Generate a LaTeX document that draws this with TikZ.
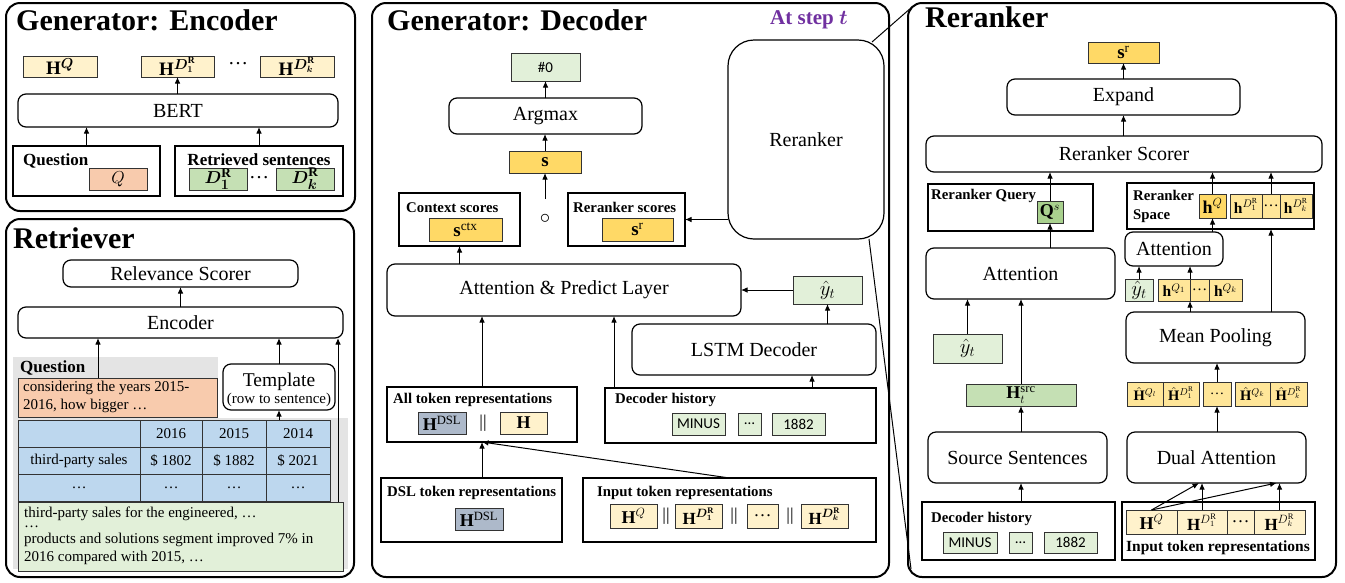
\documentclass[tikz,border=0pt]{standalone}
\usepackage{fontspec}
\usepackage{amsmath,bm}
\setmainfont{Liberation Serif}
\newfontfamily\calib{Carlito}
\usetikzlibrary{arrows.meta}

\definecolor{hyel}{HTML}{FFF2CC}
\definecolor{peach}{HTML}{F8CBAD}
\definecolor{lgreen}{HTML}{E2F0D9}
\definecolor{mgreen}{HTML}{C5E0B4}
\definecolor{dgreen}{HTML}{A9D18E}
\definecolor{gold}{HTML}{FFD966}
\definecolor{lgold}{HTML}{FFE699}
\definecolor{slate}{HTML}{ADB9CA}
\definecolor{tblue}{HTML}{BDD7EE}
\definecolor{bggray}{HTML}{E4E4E4}
\definecolor{stepcol}{HTML}{7030A0}

% font sizes (1pt = one unit of the drawing grid)
\newcommand\ttl{\fontsize{30}{34}\selectfont\bfseries}
\newcommand\bodyf{\fontsize{20}{24}\selectfont}
\newcommand\lblf{\fontsize{14.8}{17}\selectfont\bfseries}
\newcommand\biglbl{\fontsize{17}{20}\selectfont\bfseries}
\newcommand\txtf{\fontsize{15}{17.5}\selectfont}
\newcommand\codef{\fontsize{15}{18}\selectfont\calib}
\newcommand\mathf{\fontsize{18}{20}\selectfont}
\newcommand\smath{\fontsize{15.5}{17}\selectfont}
\newcommand\tmath{\fontsize{14.5}{16}\selectfont}

% box from its two corners: name, style, x1, y1, x2, y2, content;
% the content sits in its own tight node <name>t at the box centre
\newcommand\mkbox[7]{%
  \node[#2, minimum width={#5-#3}, minimum height={#6-#4}] (#1) at ({(#3+#5)/2},{(#4+#6)/2}) {};
  \node[#2, draw=none, fill=none, rounded corners=0pt, minimum width=0pt, minimum height=0pt] (#1t) at (#1.center) {#7};}

\newcommand\HD[1]{\mathbf{H}^{\boldsymbol{D}_{\boldsymbol{#1}}^{\mathbf{R}}}}

\tikzset{
  panel/.style={draw, line width=2pt, rounded corners=14pt, inner sep=0pt, outer sep=0pt},
  modbox/.style={draw, line width=1.2pt, rounded corners=8pt, fill=white, inner sep=0pt, outer sep=0pt, font=\bodyf},
  frame/.style={draw, line width=1.2pt, fill=white, inner sep=0pt, outer sep=0pt},
  cell/.style={draw=black!80, line width=1pt, inner sep=0pt, outer sep=0pt, font=\mathf},
  lbl/.style={inner sep=0pt, font=\lblf},
  sep/.style={inner sep=0pt, font=\mathf},
  ttlnode/.style={inner sep=0pt, font=\ttl, anchor=base west},
  arr/.style={-{Latex[length=6.5pt,width=5.5pt]}, line width=1pt},
  link/.style={line width=1pt},
}

\begin{document}
\begin{tikzpicture}[x=1pt,y=-1pt]
\useasboundingbox (0,0) rectangle (1345,582);
\fill[white] (0,0) rectangle (1345,582);

%================ Generator: Encoder ================
\mkbox{enc}{panel}{6}{3}{355}{211}{}
\node[ttlnode] (encT) at (16,30) {Generator: Encoder};
\mkbox{ehq}{cell,fill=hyel,font=\fontsize{19}{20}\selectfont}{23}{56}{97}{77}{$\mathbf{H}^{\boldsymbol{Q}}$}
\mkbox{ehd1}{cell,fill=hyel,font=\fontsize{19}{20}\selectfont}{141}{56}{214}{77}{$\HD{1}$}
\node[sep,font=\bodyf] (edots) at (238,64) {…};
\mkbox{ehdk}{cell,fill=hyel,font=\fontsize{19}{20}\selectfont}{260}{56}{334}{77}{$\HD{k}$}
\mkbox{bert}{modbox}{18}{94}{338}{127}{BERT}
\draw[arr] (bert.north -| ehd1) -- (ehd1.south);
\mkbox{qbox}{frame}{13}{146}{160}{196}{}
\node[lbl,font=\biglbl,anchor=base west] (qlab) at (23,165) {Question};
\mkbox{eq}{cell,fill=peach,font=\fontsize{19}{20}\selectfont}{89}{168}{147}{190}{$Q$}
\mkbox{rsbox}{frame}{175}{146}{343}{196}{}
\node[lbl,font=\biglbl,anchor=base] (rslab) at (259,165) {Retrieved sentences};
\mkbox{ed1}{cell,fill=mgreen,font=\fontsize{19}{20}\selectfont}{189}{168}{247}{190}{$\boldsymbol{D}_{\boldsymbol{1}}^{\mathbf{R}}$}
\node[sep,font=\bodyf] (eddots) at (259,178) {…};
\mkbox{edk}{cell,fill=mgreen,font=\fontsize{19}{20}\selectfont}{276}{168}{334}{190}{$\boldsymbol{D}_{\boldsymbol{k}}^{\mathbf{R}}$}
\draw[arr] (qbox.north) -- (qbox.north |- bert.south);
\draw[arr] (rsbox.north) -- (rsbox.north |- bert.south);

%================ Retriever ================
\mkbox{ret}{panel}{6}{219}{354}{577}{}
\fill[bggray] (13,357) rectangle (218,420);
\fill[bggray] (13,418) rectangle (348,569);
\node[ttlnode] (retT) at (13,248) {Retriever};
\mkbox{rscore}{modbox}{63}{260}{298}{287}{Relevance Scorer}
\mkbox{renc}{modbox}{18}{307}{343}{338}{Encoder}
\draw[arr] (renc.north) -- (rscore.south);
\node[lbl,font=\biglbl,anchor=base west] (rq) at (20,372) {Question};
\mkbox{qtext}{cell,fill=peach}{18}{378}{217}{417}{}
\node[inner sep=0pt,font=\txtf,anchor=base west] (qt1) at (23,391) {considering the years 2015-};
\node[inner sep=0pt,font=\txtf,anchor=base west] (qt2) at (23,409) {2016, how bigger …};
\draw[arr] ([xshift=-19.5pt]qtext.north) -- ([xshift=-19.5pt]qtext.north |- renc.south);
\mkbox{tmpl}{modbox}{223}{364}{335}{410}{}
\node[inner sep=0pt,font=\fontsize{19.5}{22}\selectfont,anchor=base] (tmplA) at (279,386) {Template};
\node[inner sep=0pt,font=\txtf,anchor=base] (tmplB) at (279,403) {(row to sentence)};
\draw[arr] (tmpl.north) -- (tmpl.north |- renc.south);

% table
\tikzset{tcell/.style={draw=black!80, line width=1pt, fill=tblue, inner sep=0pt, outer sep=0pt, font=\txtf}}
\mkbox{t11}{tcell}{18}{420}{140}{447}{}
\mkbox{t12}{tcell}{140}{420}{202}{447}{2016}
\mkbox{t13}{tcell}{202}{420}{266}{447}{2015}
\mkbox{t14}{tcell}{266}{420}{330}{447}{2014}
\mkbox{t21}{tcell}{18}{447}{140}{474}{third-party sales}
\mkbox{t22}{tcell}{140}{447}{202}{474}{\$ 1802}
\mkbox{t23}{tcell}{202}{447}{266}{474}{\$ 1882}
\mkbox{t24}{tcell}{266}{447}{330}{474}{\$ 2021}
\mkbox{t31}{tcell}{18}{474}{140}{501}{…}
\mkbox{t32}{tcell}{140}{474}{202}{501}{…}
\mkbox{t33}{tcell}{202}{474}{266}{501}{…}
\mkbox{t34}{tcell}{266}{474}{330}{501}{…}
\draw[arr] (t14.north -| tmpl.south) -- (tmpl.south);

\mkbox{sent}{cell,fill=lgreen}{18}{502}{343}{571}{}
\node[inner sep=0pt,font=\txtf,anchor=base west] (s1) at (24,517) {third-party sales for the engineered, …};
\node[inner sep=0pt,font=\txtf,anchor=base west] (s2) at (24,527) {…};
\node[inner sep=0pt,font=\txtf,anchor=base west] (s3) at (24,543) {products and solutions segment improved 7\% in};
\node[inner sep=0pt,font=\txtf,anchor=base west] (s4) at (24,561) {2016 compared with 2015, …};
\draw[arr] ([xshift=-5pt]sent.north east) -- ([xshift=-5pt]sent.north east |- renc.south);

%================ Generator: Decoder ================
\mkbox{dec}{panel}{372}{3}{889}{577}{}
\node[ttlnode] (decT) at (387,30) {Generator: Decoder};
\node[inner sep=0pt,anchor=base west,font=\fontsize{21}{24}\selectfont\bfseries,text=stepcol] (stepT) at (770,24) {At step $\boldsymbol{t}$};
\mkbox{rrk}{modbox,rounded corners=26pt}{728}{40}{884}{239}{Reranker}

\mkbox{out0}{cell,fill=lgreen,font=\codef}{511}{53}{580}{81}{\#0}
\mkbox{amax}{modbox}{449}{98}{642}{134}{Argmax}
\mkbox{sfin}{cell,fill=gold,font=\fontsize{19}{20}\selectfont}{509}{151}{581}{173}{$\mathbf{s}$}
\draw[arr] (amax.north) -- (out0.south);
\draw[arr] (sfin.north) -- (sfin.north |- amax.south);
\coordinate (mix) at (545,199);
\draw[arr] (mix) -- (mix |- sfin.south);
\node[sep,font=\bodyf] (odot) at (545,219) {$\circ$};

\mkbox{ctx}{frame}{399}{193}{520}{246}{}
\node[lbl,anchor=base west] (ctxl) at (406,212) {Context scores};
\mkbox{sctx}{cell,fill=gold,font=\fontsize{19}{20}\selectfont}{429}{218}{502}{241}{$\mathbf{s}^{\mathrm{ctx}}$}
\mkbox{rrs}{frame}{568}{193}{685}{246}{}
\node[lbl,anchor=base west] (rrsl) at (573,212) {Reranker scores};
\mkbox{sr}{cell,fill=gold,font=\fontsize{19}{20}\selectfont}{602}{218}{673}{241}{$\mathbf{s}^{\mathrm{r}}$}
\draw[arr] (rrk.west |- rrs.east) -- (rrs.east);

\mkbox{attp}{modbox}{387}{264}{741}{316}{Attention \& Predict Layer}
\draw[arr] (ctx.south |- attp.north) -- (ctx.south);
\mkbox{yh}{cell,fill=lgreen,font=\bodyf}{793}{276}{862}{304}{$\hat{y}_t$}
\draw[arr] (yh.west) -- (yh.west -| attp.east);
\mkbox{lstm}{modbox}{632}{324}{876}{375}{LSTM Decoder}
\draw[arr] (lstm.north -| yh.south) -- (yh.south);

\mkbox{allt}{frame}{387}{387}{577}{442}{}
\node[lbl,anchor=base west] (alltl) at (393,403) {All token representations};
\mkbox{hdsl1}{cell,fill=slate}{418}{412}{466}{434}{$\mathbf{H}^{\mathrm{DSL}}$}
\node[sep] (bar1) at (483,423) {||};
\mkbox{hall}{cell,fill=hyel}{500}{412}{547}{434}{$\mathbf{H}$}

\mkbox{dh}{frame}{605}{388}{876}{443}{}
\node[lbl,anchor=base west] (dhl) at (615,403) {Decoder history};
\mkbox{m1}{cell,fill=lgreen,font=\codef}{672}{413}{725}{435}{MINUS}
\mkbox{m2}{cell,fill=lgreen,font=\codef}{738}{413}{761}{435}{…}
\mkbox{m3}{cell,fill=lgreen,font=\codef}{772}{413}{825}{435}{1882}
\draw[arr] ([xshift=-64pt]dh.north east) -- ([xshift=-64pt]dh.north east |- lstm.south);
\draw[arr] (allt.north) -- (allt.north |- attp.south);
\draw[arr] ([xshift=9pt]dh.north west) -- ([xshift=9pt]dh.north west |- attp.south);

\mkbox{dslt}{frame}{381}{478}{562}{542}{}
\node[lbl,anchor=base west] (dsltl) at (387,496) {DSL token representations};
\mkbox{hdsl2}{cell,fill=slate}{455}{508}{503}{530}{$\mathbf{H}^{\mathrm{DSL}}$}
\mkbox{inpt}{frame}{583}{478}{876}{542}{}
\node[lbl,anchor=base west] (inptl) at (597,496) {Input token representations};
\mkbox{i1}{cell,fill=hyel}{610}{504}{657}{528}{$\mathbf{H}^{Q}$}
\node[sep] (bar2) at (666,516) {||};
\mkbox{i2}{cell,fill=hyel,font=\fontsize{17}{19}\selectfont}{675}{504}{722}{528}{$\HD{1}$}
\node[sep] (bar3) at (734,516) {||};
\mkbox{i3}{cell,fill=hyel}{747}{504}{778}{528}{…}
\node[sep] (bar4) at (790,516) {||};
\mkbox{i4}{cell,fill=hyel,font=\fontsize{17}{19}\selectfont}{801}{504}{848}{528}{$\HD{k}$}
\draw[arr] (allt.south |- dslt.north) -- (allt.south);
\draw[arr] (inpt.north) -- (allt.south);

%================ Reranker ================
\mkbox{rer}{panel}{908}{3}{1336}{577}{}
\node[ttlnode] (rerT) at (925,27) {Reranker};

\draw[link] ([shift={(-12pt,-2pt)}]rrk.north east) -- ([shift={(4pt,-4pt)}]rer.north west);
\draw[link] ([xshift=-15pt]rrk.south east) -- ([shift={(3pt,8pt)}]rer.south west);

\mkbox{srr}{cell,fill=gold,font=\fontsize{19}{20}\selectfont}{1088}{42}{1159}{63}{$\mathbf{s}^{\mathrm{r}}$}
\mkbox{expd}{modbox}{1007}{79}{1240}{115}{Expand}
\mkbox{rsc}{modbox}{926}{136}{1322}{172}{Reranker Scorer}
\draw[arr] (expd.north) -- (expd.north |- srr.south);
\draw[arr] (expd.south |- rsc.north) -- (expd.south);

\mkbox{rq}{frame}{928}{184}{1093}{231}{}
\node[lbl,anchor=base west] (rql) at (931,199) {Reranker Query};
\mkbox{qs}{cell,fill=dgreen}{1037}{201}{1063}{223}{$\mathbf{Q}^{s}$}
\draw[arr] (qs.north) -- (qs.north |- rsc.south);
\mkbox{attl}{modbox}{926}{248}{1115}{299}{Attention}
\draw[arr] (attl.north -| qs.south) -- (qs.south);

\mkbox{rsp}{frame}{1127}{183}{1314}{229}{}
\node[lbl,anchor=base west] (rspl1) at (1133,200) {Reranker};
\node[lbl,anchor=base west] (rspl2) at (1133,219) {Space};
\mkbox{hq2}{cell,fill=gold}{1199}{194}{1226}{218}{$\mathbf{h}^{Q}$}
\mkbox{hd1b}{cell,fill=lgold,font=\smath}{1230}{194}{1262}{218}{$\mathbf{h}^{D_1^{\mathrm{R}}}$}
\mkbox{hdd}{cell,fill=lgold,font=\smath}{1262}{194}{1280}{218}{…}
\mkbox{hdkb}{cell,fill=lgold,font=\smath}{1280}{194}{1312}{218}{$\mathbf{h}^{D_k^{\mathrm{R}}}$}
\draw[arr] (hq2.north) -- (hq2.north |- rsc.south);
\draw[arr] (hdd.north) -- (hdd.north |- rsc.south);

\mkbox{atts}{modbox}{1125}{232}{1223}{266}{Attention}
\draw[arr] (atts.north -| hq2.south) -- (hq2.south);
\mkbox{yh2}{cell,fill=lgreen,font=\bodyf}{1125}{279}{1153}{301}{$\hat{y}_t$}
\draw[arr] (yh2.north) -- (yh2.north |- atts.south);
\mkbox{hq1}{cell,fill=lgold,font=\smath}{1158}{279}{1190}{301}{$\mathbf{h}^{Q_1}$}
\mkbox{hqd}{cell,fill=lgold,font=\smath}{1190}{279}{1209}{301}{…}
\mkbox{hqk}{cell,fill=lgold,font=\smath}{1209}{279}{1242}{301}{$\mathbf{h}^{Q_k}$}
\draw[arr] (hq1.north east) -- (hq1.north east |- atts.south);

\mkbox{mpool}{modbox}{1126}{312}{1305}{363}{Mean Pooling}
\draw[arr] (mpool.north -| hq1.south east) -- (hq1.south east);
\draw[arr] (mpool.north -| hdd.south) -- (hdd.south |- rsp.south);

\mkbox{e1}{cell,fill=lgold,font=\tmath}{1127}{382}{1163}{406}{$\hat{\mathbf{H}}^{Q_l}$}
\mkbox{e2}{cell,fill=lgold,font=\tmath}{1163}{382}{1199}{406}{$\hat{\mathbf{H}}^{D_1^{\mathrm{R}}}$}
\mkbox{e3}{cell,fill=lgold,font=\tmath}{1203}{382}{1231}{406}{…}
\mkbox{e4}{cell,fill=lgold,font=\tmath}{1235}{382}{1270}{406}{$\hat{\mathbf{H}}^{Q_k}$}
\mkbox{e5}{cell,fill=lgold,font=\tmath}{1270}{382}{1307}{406}{$\hat{\mathbf{H}}^{D_k^{\mathrm{R}}}$}
\draw[arr] (e3.north) -- (e3.north |- mpool.south);

\mkbox{dual}{modbox}{1127}{432}{1306}{483}{Dual Attention}
\draw[arr] (dual.north -| e3.south) -- (e3.south);
\mkbox{src}{modbox}{928}{432}{1107}{483}{Source Sentences}
\mkbox{hsrc}{cell,fill=mgreen}{966}{384}{1076}{406}{$\mathbf{H}_t^{\mathrm{src}}$}
\draw[arr] (src.north -| hsrc.south) -- (hsrc.south);
\draw[arr] (hsrc.north) -- (hsrc.north |- attl.south);
\mkbox{yh3}{cell,fill=lgreen,font=\bodyf}{933}{334}{1002}{363}{$\hat{y}_t$}
\draw[arr] (yh3.north) -- (yh3.north |- attl.south);

\mkbox{dh2}{frame}{922}{502}{1115}{560}{}
\node[lbl,anchor=base west] (dh2l) at (931,522) {Decoder history};
\mkbox{n1}{cell,fill=lgreen,font=\codef}{943}{532}{997}{553}{MINUS}
\mkbox{n2}{cell,fill=lgreen,font=\codef}{1009}{532}{1032}{553}{…}
\mkbox{n3}{cell,fill=lgreen,font=\codef}{1044}{532}{1097}{553}{1882}
\draw[arr] (dh2.north -| hsrc.south) -- (src.south -| hsrc.south);

\mkbox{it2}{frame}{1122}{502}{1315}{560}{}
\mkbox{j1}{cell,fill=hyel}{1126}{510}{1177}{534}{$\mathbf{H}^{Q}$}
\mkbox{j2}{cell,fill=hyel,font=\fontsize{17}{19}\selectfont}{1177}{510}{1227}{534}{$\mathbf{H}^{D_1^{\mathrm{R}}}$}
\mkbox{j3}{cell,fill=hyel}{1227}{510}{1254}{534}{…}
\mkbox{j4}{cell,fill=hyel,font=\fontsize{17}{19}\selectfont}{1254}{510}{1305}{534}{$\mathbf{H}^{D_k^{\mathrm{R}}}$}
\node[lbl,font=\fontsize{15.5}{18}\selectfont\bfseries,anchor=base] (it2l) at (1218,551) {Input token representations};
\draw[arr] (j2.north) -- (dual.south -| j2.north);
\draw[arr] (j4.north) -- (dual.south -| j4.north);
\draw[arr] (j1.north) -- ([xshift=-3pt]dual.south -| j2.north);
\draw[arr] (j1.north) -- ([xshift=-3pt]dual.south -| j4.north);
\end{tikzpicture}
\end{document}
